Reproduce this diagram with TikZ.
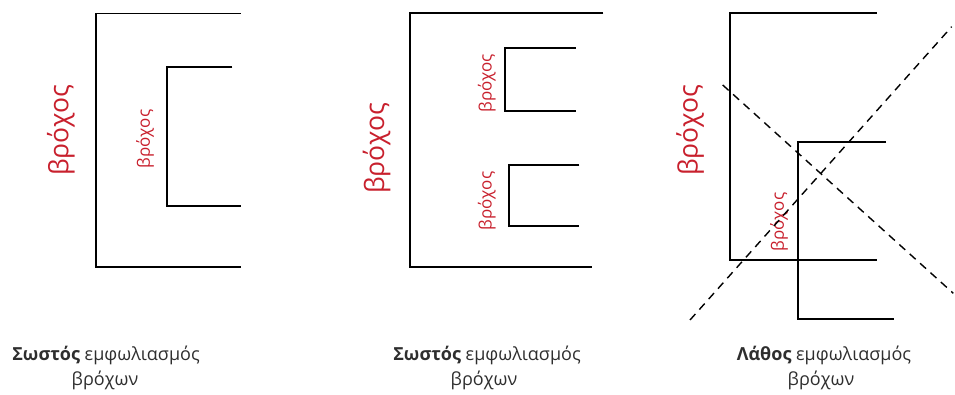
\documentclass[tikz,border=0pt]{standalone}
\usepackage{fontspec}
\setmainfont{Open Sans}
\definecolor{lblred}{RGB}{200,32,45}
\begin{document}
\begin{tikzpicture}[x=1pt,y=-1pt,
  frame/.style={line width=1.7pt, line join=miter},
  cross/.style={line width=1.4pt, dash pattern=on 8pt off 6pt},
  biglbl/.style={text=lblred, font=\fontsize{26.5}{26.5}\selectfont, rotate=90, inner sep=0pt},
  smalllbl/.style={text=lblred, font=\fontsize{17}{17}\selectfont, rotate=90, inner sep=0pt},
  caption/.style={font=\fontsize{18}{18}\selectfont, inner sep=0pt, text=black!82}]
\useasboundingbox (0,0) rectangle (955,395);
% ---- panel 1
\draw[frame] (240.7,13.5) -- (95.7,13.5) -- (95.7,266.7) -- (240.7,266.7);
\draw[frame] (232.3,66.7) -- (167.3,66.7) -- (167.3,205.7) -- (240.7,205.7);
\node[biglbl] (l1) at (61,130) {βρόχος};
\node[smalllbl] (s1) at (145,139) {βρόχος};
\node[caption] (c1a) at (106,355) {\textbf{Σωστός} εμφωλιασμός};
\node[caption] (c1b) at (105,380) {βρόχων};
% ---- panel 2
\draw[frame] (603.3,13.3) -- (410,13.3) -- (410,266.7) -- (591.7,266.7);
\draw[frame] (575.7,48.3) -- (505,48.3) -- (505,111) -- (575.7,111);
\draw[frame] (579.3,165) -- (509,165) -- (509,226) -- (579.3,226);
\node[biglbl] (l2) at (376.7,148) {βρόχος};
\node[smalllbl] (s2) at (486.7,83.3) {βρόχος};
\node[smalllbl] (s3) at (486.7,201) {βρόχος};
\node[caption] (c2a) at (487,355) {\textbf{Σωστός} εμφωλιασμός};
\node[caption] (c2b) at (484,380) {βρόχων};
% ---- panel 3
\draw[frame] (876.7,13.3) -- (730,13.3) -- (730,260) -- (876.7,260);
\draw[frame] (886,142.3) -- (797.7,142.3) -- (797.7,319) -- (894,319);
\node[biglbl] (l3) at (690,130) {βρόχος};
\node[smalllbl] (s4) at (779,222) {βρόχος};
\coordinate (d1a) at (722.7,85);
\coordinate (d1b) at (953.3,293.3);
\coordinate (d2a) at (690,320);
\coordinate (d2b) at (951.7,26.7);
\draw[cross] (d1a) -- (d1b);
\draw[cross] (d2a) -- (d2b);
\node[caption] (c3a) at (824,355) {\textbf{Λάθος} εμφωλιασμός};
\node[caption] (c3b) at (821,380) {βρόχων};
\end{tikzpicture}
\end{document}
